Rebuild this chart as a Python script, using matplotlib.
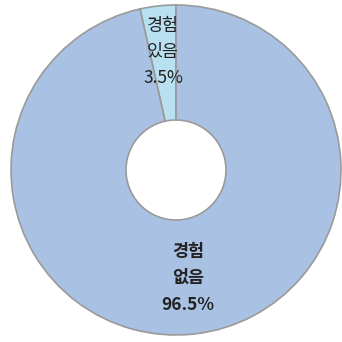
import numpy as np
import matplotlib.pyplot as plt

plt.rcParams['font.family'] = ['Noto Sans CJK KR', 'DejaVu Sans']

labels = ['경험\n있음', '경험\n없음']
values = [3.5, 96.5]
colors = ['#B9E0F0', '#A9C1E3']
label_r = [0.72, 0.66]
weights = ['normal', 'bold']

fig = plt.figure(figsize=(3.42, 3.42), dpi=100)
ax = fig.add_axes([0, 0, 1, 1])

cx, cy, r = 176, 172, 165
wedges, _ = ax.pie(values, colors=colors, startangle=90, counterclock=True,
                   radius=r, center=(cx, cy),
                   wedgeprops=dict(width=r - 50, edgecolor='#9A9A9A', linewidth=1.2))

for w, lab, v, lr, fw in zip(wedges, labels, values, label_r, weights):
    ang = np.deg2rad((w.theta1 + w.theta2) / 2)
    x = cx + r * lr * np.cos(ang)
    y = cy + r * lr * np.sin(ang)
    ax.text(x, y, f'{lab}\n{v}%', ha='center', va='center', fontsize=12.5,
            fontweight=fw, color='#222222', linespacing=1.6)

ax.set_xlim(0, 342)
ax.set_ylim(0, 342)
ax.set_aspect('equal')
ax.axis('off')

fig.savefig('out.png', dpi=100)
